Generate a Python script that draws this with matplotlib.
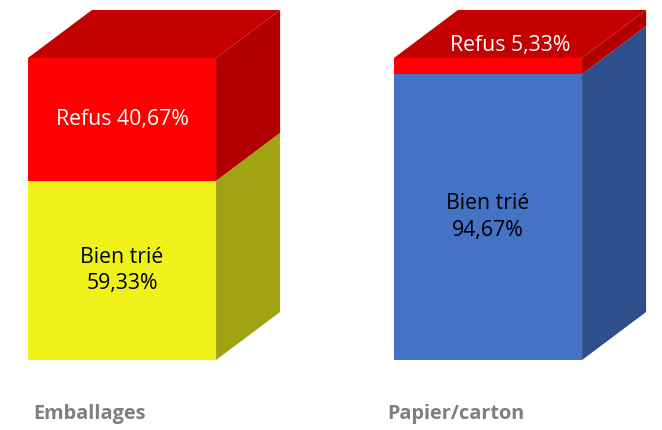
import numpy as np
import matplotlib.pyplot as plt
from matplotlib.patches import Polygon

categories = ["Emballages", "Papier/carton"]
bien_trie = [59.33, 94.67]
refus = [40.67, 5.33]
bien_labels = ["Bien trié\n59,33%", "Bien trié\n94,67%"]
refus_labels = ["Refus 40,67%", "Refus 5,33%"]

# colours: (front, side, top) for each segment
col_bien = [("#EEF218", "#A0A412", None), ("#4472C4", "#2E4F8C", None)]
col_refus = ("#FF0000", "#B00000", "#C40000")

plt.rcParams['font.family'] = ['Open Sans', 'DejaVu Sans']

fig = plt.figure(figsize=(6.62, 4.30), dpi=100)
ax = fig.add_axes([0, 0, 1, 1])
ax.set_xlim(-0.3333, 1.4754)
ax.set_ylim(-23.18, 119.2)
ax.axis("off")

width = 0.514
dx = 0.175   # depth offset in x units
dy = 15.9    # depth offset in y units

x = np.arange(len(categories))


def box(xc, y0, h, front, side, top):
    xl, xr = xc - width / 2, xc + width / 2
    ax.bar(xc, h, width, bottom=y0, color=front, linewidth=0, zorder=2)
    ax.add_patch(Polygon([(xr, y0), (xr + dx, y0 + dy), (xr + dx, y0 + h + dy), (xr, y0 + h)],
                         closed=True, facecolor=side, edgecolor="none", zorder=1))
    if top is not None:
        ax.add_patch(Polygon([(xl, y0 + h), (xl + dx, y0 + h + dy), (xr + dx, y0 + h + dy), (xr, y0 + h)],
                             closed=True, facecolor=top, edgecolor="none", zorder=1))


for i in range(len(categories)):
    box(x[i], 0, bien_trie[i], col_bien[i][0], col_bien[i][1], None)
    box(x[i], bien_trie[i], refus[i], *col_refus)

# labels
ax.text(x[0], bien_trie[0] + refus[0] / 2, refus_labels[0], ha="center", va="center",
        color="white", fontsize=15.3, zorder=3)
ax.text(x[1] + dx * 0.34, 100 + dy * 0.27, refus_labels[1], ha="center", va="center",
        color="white", fontsize=15.3, zorder=3)
for i in range(len(categories)):
    ax.text(x[i], bien_trie[i] * 0.5, bien_labels[i], ha="center", va="center",
            color="black", fontsize=15.3, linespacing=1.35, zorder=3)

for i, c in enumerate(categories):
    ax.text(x[i] - 0.088, -17.9, c, ha="center", va="center",
            color="#7F7F7F", fontsize=14.3, fontweight="bold")

fig.savefig("out.png", dpi=100)
